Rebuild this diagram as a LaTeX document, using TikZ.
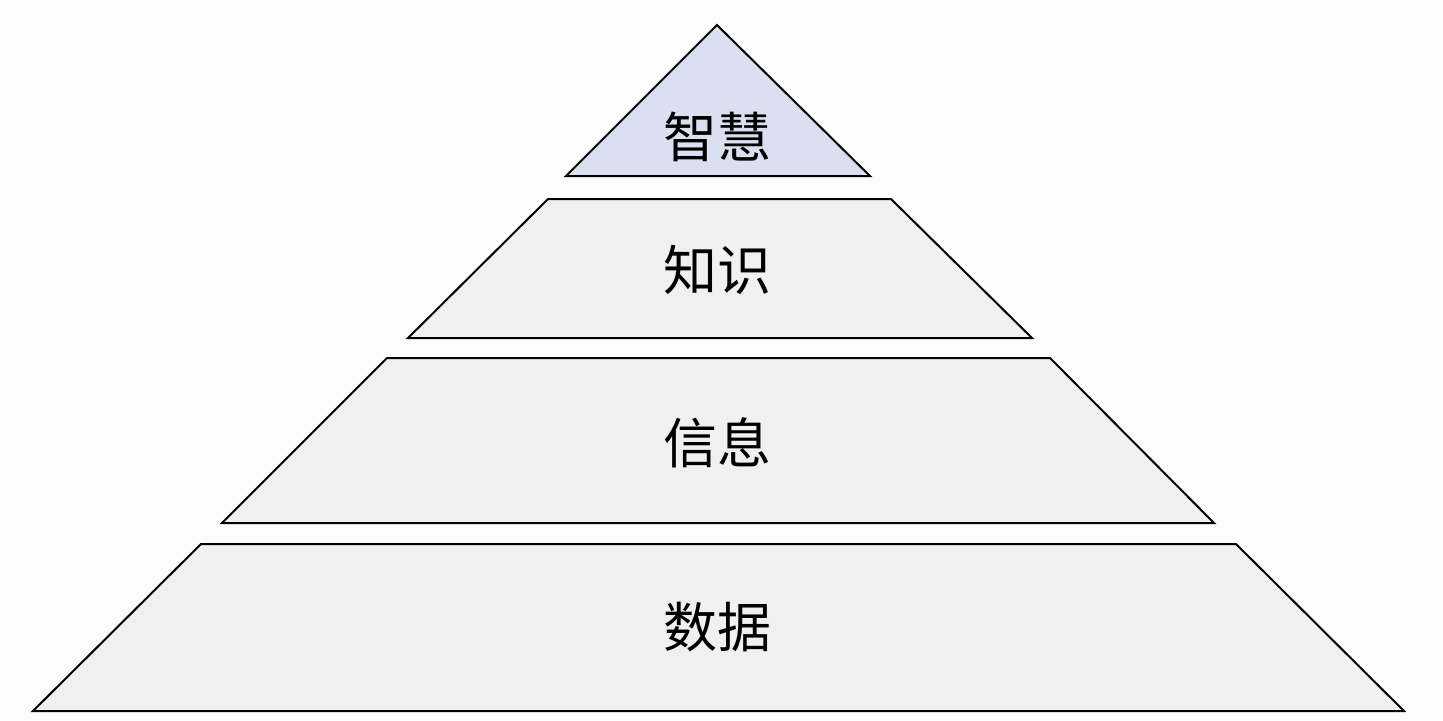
\documentclass[tikz,border=0pt]{standalone}
\usepackage{fontspec}
\newfontfamily\cjk{Noto Sans CJK SC}
\definecolor{layergray}{RGB}{240,240,240}
\definecolor{topblue}{RGB}{218,224,240}
\definecolor{bgwhite}{RGB}{252,252,252}
\begin{document}
\begin{tikzpicture}[x=0.5pt,y=-0.5pt,
  layer/.style={draw=black,line width=1pt,fill=layergray,line join=miter},
  label/.style={font=\cjk\fontsize{27}{32}\selectfont,text=black}]
\fill[bgwhite] (0,0) rectangle (1443,720);
\useasboundingbox (0,0) rectangle (1443,720);
% layers, top to bottom
\draw[layer,fill=topblue] (717,25) -- (870,176) -- (566,176) -- cycle;
\draw[layer] (548,199) -- (891,199) -- (1032,338) -- (408,338) -- cycle;
\draw[layer] (387,358) -- (1050,358) -- (1214,523) -- (222,523) -- cycle;
\draw[layer] (201,544) -- (1236,544) -- (1404,711) -- (33,711) -- cycle;
% labels
\node[label] (wisdom) at (717,137) {智慧};
\node[label] (knowledge) at (717,270) {知识};
\node[label] (information) at (717,443) {信息};
\node[label] (data) at (717,627) {数据};
\end{tikzpicture}
\end{document}
